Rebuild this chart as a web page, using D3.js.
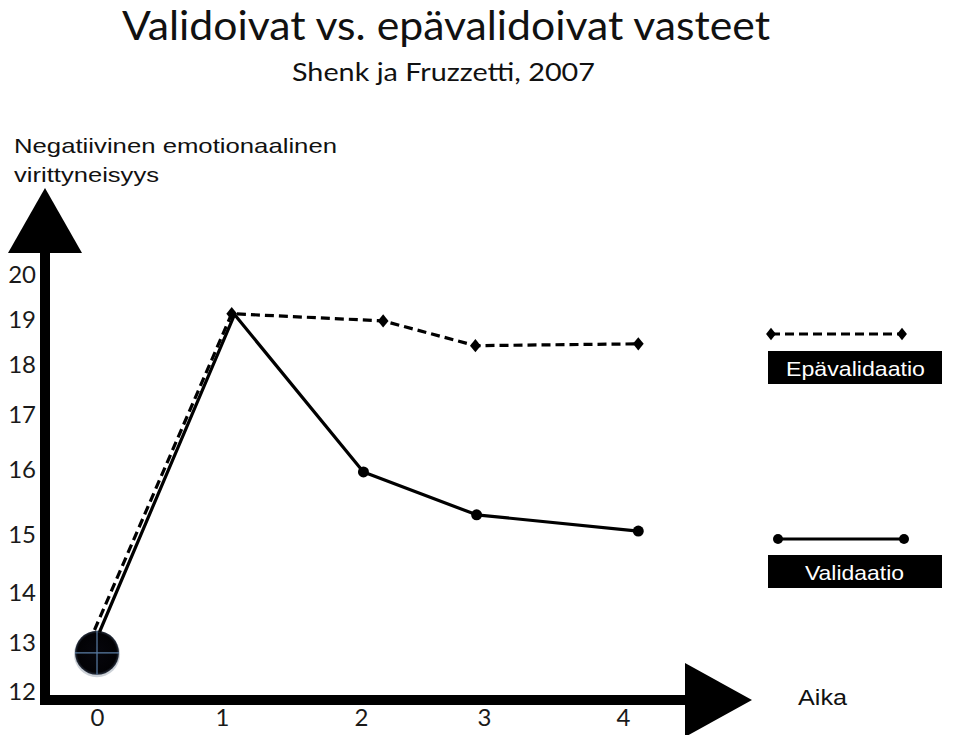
<!DOCTYPE html>
<html>
<head>
<meta charset="utf-8">
<script src="https://cdn.jsdelivr.net/npm/d3@7"></script>
<style>
  html, body { margin: 0; padding: 0; background: #fff; }
  svg { display: block; }
</style>
</head>
<body>
<svg id="chart" width="960" height="735"></svg>
<script>
// ---- data ----
const titleText = "Validoivat vs. epävalidoivat vasteet";
const subtitleText = "Shenk ja Fruzzetti, 2007";
const yTitleLines = ["Negatiivinen emotionaalinen", "virittyneisyys"];
const xTitleText = "Aika";
const xTicks = [0, 1, 2, 3, 4];
const yTicks = [12, 13, 14, 15, 16, 17, 18, 19, 20];
const seriesNames = ["Epävalidaatio", "Validaatio"];
// Epävalidaatio (dashed)
const epaX = [-0.02, 1.07, 2.18, 2.93, 4.11];
const epaY = [13.26, 19.14, 18.98, 18.43, 18.47];
// Validaatio (solid)
const valX = [0.02, 1.09, 2.02, 2.94, 4.11];
const valY = [13.22, 19.12, 15.97, 15.31, 15.06];
// starting point marker
const startX = [0];
const startY = [12.8];

// ---- layout ----
const svg = d3.select("#chart");
const axisX = 45, axisY = 700;
const xRange = [97, 222, 361, 484, 623];
const yRange = [692, 643, 593, 535, 470, 415, 365, 320, 275];
const x = d3.scaleLinear().domain(xTicks).range(xRange);
const y = d3.scaleLinear().domain(yTicks).range(yRange);

// titles
svg.append("text").attr("x", 122).attr("y", 40)
  .attr("font-family", "Lato, 'Open Sans', sans-serif").attr("font-size", 40)
  .attr("fill", "#111").attr("textLength", 648).attr("lengthAdjust", "spacingAndGlyphs")
  .text(titleText);
svg.append("text").attr("x", 292).attr("y", 81)
  .attr("font-family", "Lato, 'Open Sans', sans-serif").attr("font-size", 25)
  .attr("fill", "#111").attr("textLength", 303).attr("lengthAdjust", "spacingAndGlyphs")
  .text(subtitleText);

// y title
const yTitleW = [323, 145];
yTitleLines.forEach((t, i) => {
  svg.append("text").attr("x", 14).attr("y", 153 + i * 29)
    .attr("font-family", "'Liberation Sans', Arial, sans-serif").attr("font-size", 21)
    .attr("fill", "#111").attr("textLength", yTitleW[i]).attr("lengthAdjust", "spacingAndGlyphs")
    .text(t);
});

// axis shafts and arrows
svg.append("rect").attr("x", axisX - 5).attr("y", 250).attr("width", 10).attr("height", axisY + 5 - 250).attr("fill", "#000");
svg.append("rect").attr("x", axisX - 5).attr("y", axisY - 5).attr("width", 690 - (axisX - 5)).attr("height", 10).attr("fill", "#000");
svg.append("path").attr("d", `M${axisX},188 L${axisX + 37},253 L${axisX - 37},253 Z`).attr("fill", "#000");
svg.append("path").attr("d", `M685,663 L752,${axisY} L685,737 Z`).attr("fill", "#000");

// x title
svg.append("text").attr("x", 798).attr("y", 705)
  .attr("font-family", "'Liberation Sans', Arial, sans-serif").attr("font-size", 22)
  .attr("fill", "#111").attr("textLength", 49).attr("lengthAdjust", "spacingAndGlyphs")
  .text(xTitleText);

// axes (labels only)
const yAxis = svg.append("g").attr("transform", `translate(37,0)`)
  .call(d3.axisLeft(y).tickValues(yTicks).tickSize(0).tickPadding(1).tickFormat(d3.format("d")));
yAxis.select(".domain").remove();
yAxis.selectAll("text").attr("font-family", "Lato, 'Open Sans', sans-serif").attr("font-size", 24).attr("fill", "#1a1a1a");

const xAxis = svg.append("g").attr("transform", `translate(0,709)`)
  .call(d3.axisBottom(x).tickValues(xTicks).tickSize(0).tickPadding(0).tickFormat(d3.format("d")));
xAxis.select(".domain").remove();
xAxis.selectAll("text").attr("font-family", "Lato, 'Open Sans', sans-serif").attr("font-size", 24).attr("fill", "#1a1a1a");

// start marker
const defs = svg.append("defs");
const grad = defs.append("radialGradient").attr("id", "ball").attr("cx", "50%").attr("cy", "50%").attr("r", "50%");
grad.append("stop").attr("offset", "0%").attr("stop-color", "#06060c");
grad.append("stop").attr("offset", "88%").attr("stop-color", "#020205");
grad.append("stop").attr("offset", "100%").attr("stop-color", "#2a3240");
const startPts = startX.map((d, i) => [d, startY[i]]);
const sg = svg.append("g");
startPts.forEach(p => {
  const cx = x(p[0]), cy = y(p[1]), r = 22;
  sg.append("circle").attr("cx", cx).attr("cy", cy + 1.5).attr("r", r + 1).attr("fill", "#8f9aa6").attr("opacity", 0.45);
  sg.append("circle").attr("cx", cx).attr("cy", cy).attr("r", r).attr("fill", "url(#ball)");
  sg.append("line").attr("x1", cx - r).attr("x2", cx + r).attr("y1", cy).attr("y2", cy).attr("stroke", "#5b7ea6").attr("stroke-width", 1.2);
  sg.append("line").attr("x1", cx).attr("x2", cx).attr("y1", cy - r).attr("y2", cy + r).attr("stroke", "#5b7ea6").attr("stroke-width", 1.2);
});

// lines
const line = d3.line().x(d => x(d[0])).y(d => y(d[1]));
const epa = epaX.map((d, i) => [d, epaY[i]]);
const val = valX.map((d, i) => [d, valY[i]]);

svg.append("path").datum(val).attr("d", line).attr("fill", "none")
  .attr("stroke", "#000").attr("stroke-width", 3.2).attr("stroke-linejoin", "round");
svg.append("path").datum(epa).attr("d", line).attr("fill", "none")
  .attr("stroke", "#000").attr("stroke-width", 3.2).attr("stroke-dasharray", "9,5");

const diamond = d3.symbol().type(d3.symbolDiamond).size(70);
svg.append("g").selectAll("path").data(epa.slice(1)).join("path")
  .attr("d", diamond).attr("transform", d => `translate(${x(d[0])},${y(d[1])}) scale(1.2,0.85)`).attr("fill", "#000");
svg.append("g").selectAll("circle").data(val.slice(2)).join("circle")
  .attr("cx", d => x(d[0])).attr("cy", d => y(d[1])).attr("r", 5.5).attr("fill", "#000");

// legend
const legend = svg.append("g");
// dashed
legend.append("line").attr("x1", 771).attr("x2", 902).attr("y1", 334).attr("y2", 334)
  .attr("stroke", "#000").attr("stroke-width", 3.2).attr("stroke-dasharray", "9,5");
[771, 902].forEach(px => legend.append("path").attr("d", diamond).attr("transform", `translate(${px},334) scale(1.1,0.8)`).attr("fill", "#000"));
legend.append("rect").attr("x", 768).attr("y", 351).attr("width", 174).attr("height", 33).attr("fill", "#000");
legend.append("text").attr("x", 786).attr("y", 376)
  .attr("font-family", "'Liberation Sans', Arial, sans-serif").attr("font-size", 21).attr("fill", "#fff")
  .attr("textLength", 139).attr("lengthAdjust", "spacingAndGlyphs").text(seriesNames[0]);
// solid
legend.append("line").attr("x1", 778).attr("x2", 904).attr("y1", 539).attr("y2", 539)
  .attr("stroke", "#000").attr("stroke-width", 3.2);
[778, 904].forEach(px => legend.append("circle").attr("cx", px).attr("cy", 539).attr("r", 5).attr("fill", "#000"));
legend.append("rect").attr("x", 768).attr("y", 555).attr("width", 174).attr("height", 33).attr("fill", "#000");
legend.append("text").attr("x", 805).attr("y", 580)
  .attr("font-family", "'Liberation Sans', Arial, sans-serif").attr("font-size", 21).attr("fill", "#fff")
  .attr("textLength", 99).attr("lengthAdjust", "spacingAndGlyphs").text(seriesNames[1]);
</script>
</body>
</html>
